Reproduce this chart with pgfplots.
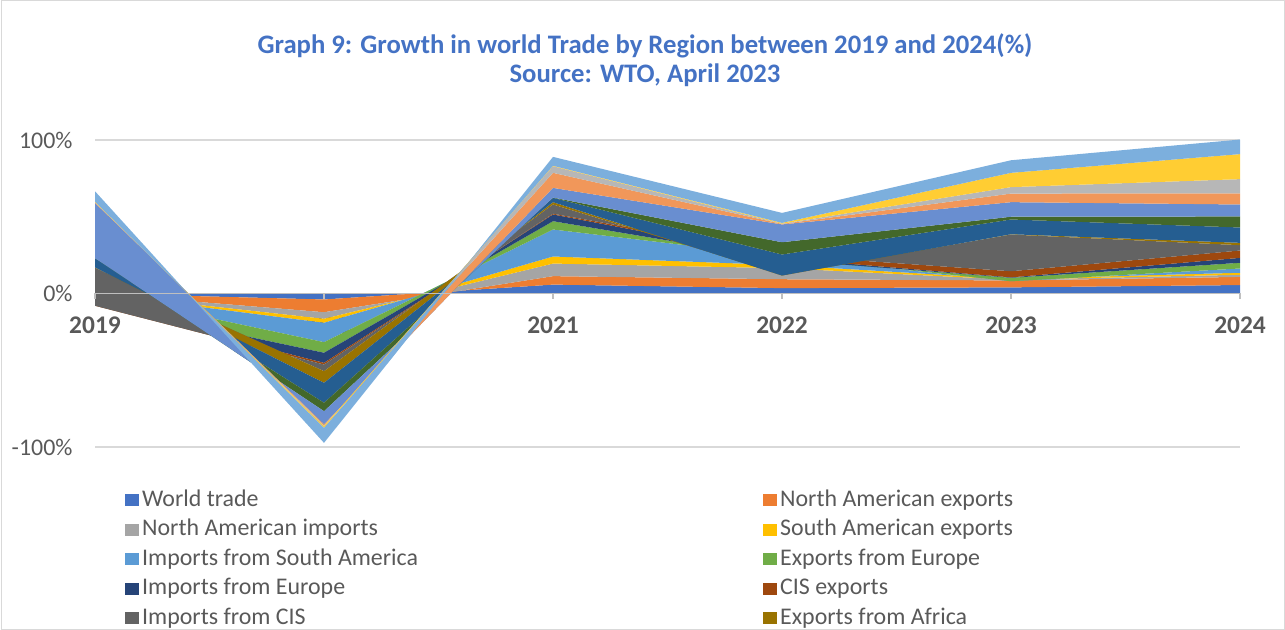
\documentclass[border=0pt]{standalone}
\usepackage{pgfplots}
\usepackage{pgfplotstable}
\usepackage{fontspec}
\setmainfont{Carlito}
\pgfplotsset{compat=1.18}
\definecolor{c1}{HTML}{4472C4}
\definecolor{c2}{HTML}{ED7D31}
\definecolor{c3}{HTML}{A5A5A5}
\definecolor{c4}{HTML}{FFC000}
\definecolor{c5}{HTML}{5B9BD5}
\definecolor{c6}{HTML}{70AD47}
\definecolor{c7}{HTML}{264478}
\definecolor{c8}{HTML}{9E480E}
\definecolor{c9}{HTML}{636363}
\definecolor{c10}{HTML}{997300}
\definecolor{c11}{HTML}{255E91}
\definecolor{c12}{HTML}{43682B}
\definecolor{c13}{HTML}{698ED0}
\definecolor{c14}{HTML}{F1975A}
\definecolor{c15}{HTML}{B7B7B7}
\definecolor{c16}{HTML}{FFCD33}
\definecolor{c17}{HTML}{7CAFDD}
\definecolor{txt}{HTML}{595959}
\definecolor{gridc}{HTML}{D9D9D9}
\definecolor{axc}{HTML}{BFBFBF}
\definecolor{ttl}{HTML}{4472C4}
\pgfplotstableread{
x s1 s2 s3 s4 s5 s6 s7 s8 s9 s10 s11 s12 s13 s14 s15 s16 s17
0 0 0 0 0 0 -7 0 -1 24.7 0.3 6 0 36 0.3 0.2 0.3 6.8
1 -3.9 -8.3 -4.3 -2.6 -12.6 -6.9 -6.6 -1.1 -4.3 -7.6 -13 -5.5 -8.6 -0.7 -0.5 -1.0 -9.8
2 5.8 5.5 8.2 4.6 17.6 5.4 4.4 0.5 6.0 1.5 2.8 0.2 6.3 9.8 4.3 0.3 5.8
3 3.5 5.8 7.2 2.0 5.5 -2.0 1.0 2.0 -12.5 -0.8 13.7 8.0 11.6 0.3 0.2 0.5 6.5
4 4.0 4.5 0.5 0.5 -1.5 2.2 0.3 4.0 23.9 0.2 9.6 1.8 9.5 5.6 4.2 9.3 8.2
5 5.5 5.3 1.4 1.3 2.8 3.7 3.2 4.8 3.5 1.5 10 7.2 7.8 7.3 9.2 16.3 9.5
}\datatable
\begin{document}
\begin{tikzpicture}
\path[use as bounding box] (0,0) rectangle (1285bp,630bp);
\draw[gridc, line width=1bp] (1bp,1bp) rectangle (1284bp,629bp);
\node[font=\fontsize{26.8}{29.5}\selectfont\bfseries, text=ttl, align=center] at (645bp,570bp)
  {Graph 9: Growth in world Trade by Region between 2019 and 2024(\%)\\Source: WTO, April 2023};
\begin{axis}[
  at={(95bp,183bp)}, anchor=south west,
  scale only axis, width=1145bp, height=307bp,
  xmin=0, xmax=5, ymin=-100, ymax=100,
  clip=false,
  stack plots=y,
  reverse stacked plots=false,
  axis line style={draw=none},
  tick style={draw=none},
  xmajorgrids=false, ymajorgrids=true,
  xtick={0,1,2,3,4,5},
  xticklabels={2019,2020,2021,2022,2023,2024},
  xticklabel style={anchor=center, yshift=122bp, font=\fontsize{25.5}{29}\selectfont\bfseries, text=txt},
  ytick={-100,0,100},
  yticklabels={-100\%,0\%,100\%},
  yticklabel style={anchor=east, xshift=-19bp, font=\fontsize{24}{28}\selectfont, text=txt},
  grid style={gridc, line width=1.5bp},
  legend columns=2,
  legend image code/.code={\fill[#1] (0bp,-6bp) rectangle (14bp,6bp);},
  legend style={at={(0.0262,-0.137)}, anchor=north west, draw=none, fill=none,
    inner sep=0bp, row sep=7.5bp, column sep=0bp,
    font=\fontsize{24}{28}\selectfont, text=txt,
    nodes={inner xsep=3bp, inner ysep=0bp, text height=17bp, text depth=5bp}},
  legend cell align=left,
]
\addplot[fill=c1, draw=none] table[x=x,y=s1]{\datatable} \closedcycle;
\addlegendentry{\makebox[618bp][l]{World trade}}
\addplot[fill=c2, draw=none] table[x=x,y=s2]{\datatable} \closedcycle;
\addlegendentry{North American exports}
\addplot[fill=c3, draw=none] table[x=x,y=s3]{\datatable} \closedcycle;
\addlegendentry{\makebox[618bp][l]{North American imports}}
\addplot[fill=c4, draw=none] table[x=x,y=s4]{\datatable} \closedcycle;
\addlegendentry{South American exports}
\addplot[fill=c5, draw=none] table[x=x,y=s5]{\datatable} \closedcycle;
\addlegendentry{\makebox[618bp][l]{Imports from South America}}
\addplot[fill=c6, draw=none] table[x=x,y=s6]{\datatable} \closedcycle;
\addlegendentry{Exports from Europe}
\addplot[fill=c7, draw=none] table[x=x,y=s7]{\datatable} \closedcycle;
\addlegendentry{\makebox[618bp][l]{Imports from Europe}}
\addplot[fill=c8, draw=none] table[x=x,y=s8]{\datatable} \closedcycle;
\addlegendentry{CIS exports}
\addplot[fill=c9, draw=none] table[x=x,y=s9]{\datatable} \closedcycle;
\addlegendentry{\makebox[618bp][l]{Imports from CIS}}
\addplot[fill=c10, draw=none] table[x=x,y=s10]{\datatable} \closedcycle;
\addlegendentry{Exports from Africa}
\addplot[fill=c11, draw=none] table[x=x,y=s11]{\datatable} \closedcycle;
\addplot[fill=c12, draw=none] table[x=x,y=s12]{\datatable} \closedcycle;
\addplot[fill=c13, draw=none] table[x=x,y=s13]{\datatable} \closedcycle;
\addplot[fill=c14, draw=none] table[x=x,y=s14]{\datatable} \closedcycle;
\addplot[fill=c15, draw=none] table[x=x,y=s15]{\datatable} \closedcycle;
\addplot[fill=c16, draw=none] table[x=x,y=s16]{\datatable} \closedcycle;
\addplot[fill=c17, draw=none] table[x=x,y=s17]{\datatable} \closedcycle;
\draw[axc, line width=1.5bp] (axis cs:0,0) -- (axis cs:5,0);
\pgfplotsinvokeforeach{0,1,2,3,4,5}{
  \draw[axc, line width=1.5bp] (axis cs:#1,0) -- ([yshift=-6bp]axis cs:#1,0);
}
\end{axis}
\end{tikzpicture}
\end{document}
